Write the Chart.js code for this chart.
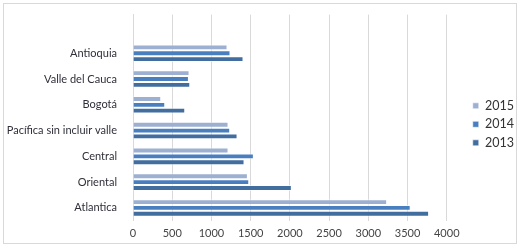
<!DOCTYPE html>
<html>
<head>
<meta charset="utf-8">
<script src="https://cdn.jsdelivr.net/npm/chart.js@4.4.0/dist/chart.umd.min.js"></script>
<style>
  html, body { margin: 0; padding: 0; background: #fff; }
  #frame { position: absolute; left: 3px; top: 3px; width: 514px; height: 241px; border: 1px solid #d9d9d9; box-sizing: border-box; }
  #c { position: absolute; left: 0; top: 0; }
</style>
</head>
<body>
<div id="frame"></div>
<canvas id="c" width="522" height="248"></canvas>
<script>
const categories = ['', 'Antioquia', 'Valle del Cauca', 'Bogotá', 'Pacífica sin incluir valle', 'Central', 'Oriental', 'Atlantica'];
const seriesNames = ['2015', '2014', '2013'];
const values2015 = [null, 1205, 721, 360, 1218, 1218, 1465, 3240];
const values2014 = [null, 1243, 713, 411, 1239, 1541, 1482, 3540];
const values2013 = [null, 1409, 730, 666, 1333, 1422, 2025, 3775];
const xTicks = [0, 500, 1000, 1500, 2000, 2500, 3000, 3500, 4000];

const colors = ['#9db0d1', '#4a7fbf', '#416d9f'];
const FONT = 'Lato, "Open Sans", sans-serif';

new Chart(document.getElementById('c'), {
  type: 'bar',
  data: {
    labels: categories,
    datasets: [values2015, values2014, values2013].map((d, i) => ({
      label: seriesNames[i],
      data: d,
      yAxisID: 'y',
      backgroundColor: colors[i],
      borderColor: 'rgba(255,255,255,0.55)',
      borderWidth: 1,
      borderSkipped: 'start',
      categoryPercentage: 0.68,
      barPercentage: 1.0
    }))
  },
  options: {
    indexAxis: 'y',
    responsive: false,
    animation: false,
    layout: { padding: { left: 5, right: -2, top: 14, bottom: 2 } },
    plugins: {
      legend: {
        position: 'right',
        fullSize: false,
        title: { display: true, text: '', padding: 6, font: { size: 1 } },
        labels: {
          boxWidth: 6, boxHeight: 6,
          padding: 6,
          color: '#333',
          font: { family: FONT, size: 12.5 }
        }
      },
      tooltip: { enabled: false }
    },
    scales: {
      x: {
        min: 0, max: 4000,
        afterBuildTicks: (axis) => { axis.ticks = xTicks.map(v => ({ value: v })); },
        grid: { color: '#d9d9d9', drawTicks: false },
        border: { display: false },
        ticks: { color: '#444', padding: 6, font: { family: FONT, size: 11 }, callback: (v) => String(v) }
      },
      y: {
        position: 'left',
        grid: { display: false },
        border: { display: true, color: '#d9d9d9' },
        ticks: { color: '#2f2f3a', padding: 8, font: { family: FONT, size: 11 } },
        afterFit: (s) => { s.width = 128; }
      },
      gap: {
        type: 'category',
        axis: 'y',
        position: 'right',
        grid: { display: false },
        border: { display: false },
        ticks: { display: false },
        afterFit: (s) => { s.width = 20; }
      }
    }
  }
});
</script>
</body>
</html>
